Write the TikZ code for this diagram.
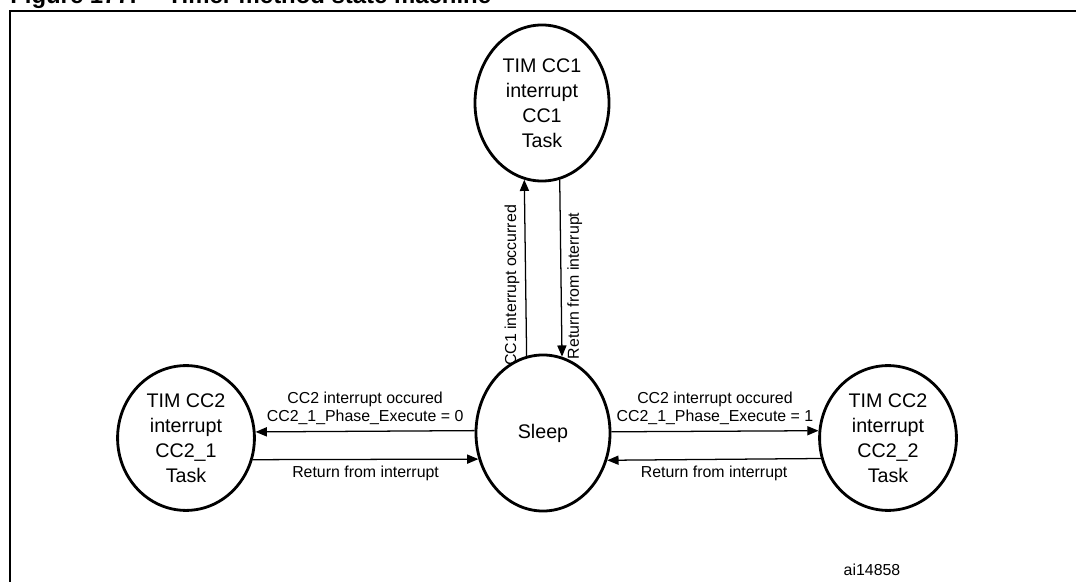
\documentclass[tikz,border=0pt]{standalone}
\usepackage{fontspec}
\setmainfont{Liberation Sans}
\usetikzlibrary{arrows.meta,shapes.geometric}

\begin{document}
\begin{tikzpicture}
[x=0.025cm,y=-0.025cm,%
  state/.style={shape=ellipse,draw,line width=2pt,inner sep=0pt,%
    minimum width=3.35cm,minimum height=3.9cm,%
    align=center,font=\fontsize{14}{17.7}\selectfont},%
  side/.style={state,minimum width=3.42cm,minimum height=3.62cm},%
  lbl/.style={font=\fontsize{11.3}{12.8}\selectfont,inner sep=4pt,align=center},%
  conn/.style={line width=0.9pt,-{Triangle[length=8pt,width=6.5pt]}}]
\useasboundingbox (0,0) rectangle (1076,582);
% frame and caption (cut off by the page)
\draw[line width=2.1pt] (10,620) -- (10,11) -- (1100,11);
\node[anchor=base west,inner sep=0pt,font=\bfseries\fontsize{17}{19}\selectfont] (title) at (10,4)
  {Figure 177.\hspace{22pt}Timer method state machine};
% states
\node[state] (cc1) at (542,103) {TIM CC1\\interrupt\\CC1\\Task};
\node[state] (sleep) at (543,433) {Sleep};
\node[side] (cc21) at (186,438) {TIM CC2\\interrupt\\CC2\_1\\Task};
\node[side] (cc22) at (888,438) {TIM CC2\\interrupt\\CC2\_2\\Task};
% sleep <-> CC1
\draw[conn] (sleep.102.7) -- node[pos=0.4,lbl,rotate=90,above] (l1) {CC1 interrupt occurred} (cc1.257.3);
\draw[conn] (cc1.283.5) -- node[pos=0.6,lbl,rotate=90,below] (l2) {Return from interrupt} (sleep.76.5);
% sleep <-> CC2_1
\draw[conn] (sleep.178.3) -- node[midway,lbl,above] (l3) {CC2 interrupt occured\\CC2\_1\_Phase\_Execute = 0} (cc21.5.9);
\draw[conn] (cc21.342.2) -- node[midway,lbl,below] (l4) {Return from interrupt} (sleep.202.4);
% sleep <-> CC2_2
\draw[conn] (sleep.1.7) -- node[midway,lbl,above] (l5) {CC2 interrupt occured\\CC2\_1\_Phase\_Execute = 1} (cc22.174.1);
\draw[conn] (cc22.197.8) -- node[midway,lbl,below] (l6) {Return from interrupt} (sleep.337.6);
\node[lbl,inner sep=0pt] (ref) at (872,570) {ai14858};
\end{tikzpicture}
\end{document}
